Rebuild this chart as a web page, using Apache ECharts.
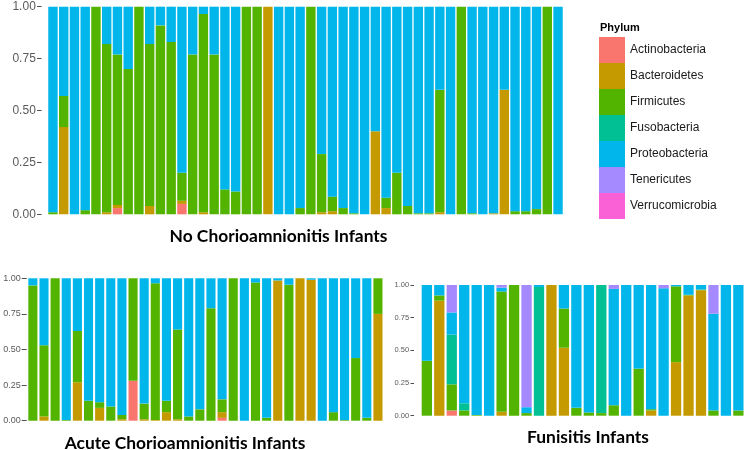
<!DOCTYPE html>
<html>
<head>
<meta charset="utf-8">
<script src="https://cdn.jsdelivr.net/npm/echarts@6/dist/echarts.min.js"></script>
<style>
  html, body { margin: 0; padding: 0; background: #ffffff; }
  #chart { width: 750px; height: 450px; }
</style>
</head>
<body>
<div id="chart"></div>
<script>
// ---------- categories ----------
const phyla = ['Actinobacteria', 'Bacteroidetes', 'Firmicutes', 'Fusobacteria', 'Proteobacteria', 'Tenericutes', 'Verrucomicrobia'];
const phylaColors = ['#F8766D', '#C49A00', '#53B400', '#00C094', '#00B6EB', '#A58AFF', '#FB61D7'];
const yTickLabels = ['0.00', '0.25', '0.50', '0.75', '1.00'];
const panelTitles = ['No Chorioamnionitis Infants', 'Acute Chorioamnionitis Infants', 'Funisitis Infants'];

const noSamples = ['N1','N2','N3','N4','N5','N6','N7','N8','N9','N10','N11','N12','N13','N14','N15','N16',
  'N17','N18','N19','N20','N21','N22','N23','N24','N25','N26','N27','N28','N29','N30','N31','N32',
  'N33','N34','N35','N36','N37','N38','N39','N40','N41','N42','N43','N44','N45','N46','N47','N48'];
const acSamples = ['A1','A2','A3','A4','A5','A6','A7','A8','A9','A10','A11','A12','A13','A14','A15','A16',
  'A17','A18','A19','A20','A21','A22','A23','A24','A25','A26','A27','A28','A29','A30','A31','A32'];
const fuSamples = ['F1','F2','F3','F4','F5','F6','F7','F8','F9','F10','F11','F12','F13',
  'F14','F15','F16','F17','F18','F19','F20','F21','F22','F23','F24','F25','F26'];

// ---------- No Chorioamnionitis ----------
const noActino = [0,0,0,0,0,0,0.03,0, 0,0,0,0,0.05,0,0,0, 0,0,0,0,0,0,0,0, 0,0,0,0,0,0,0,0, 0,0,0,0,0,0,0,0, 0,0,0,0,0,0,0,0];
const noBactero = [0,0.42,0,0,0,0.01,0.015,0, 0,0.04,0,0,0.015,0,0.01,0, 0,0,0,0,1.0,0,0,0, 0,0.01,0.015,0,0,0,0.40,0.03, 0,0,0,0,0.01,0,0,0, 0,0.005,0.60,0,0,0,0,0];
const noFirmi = [0.01,0.15,0,0.02,1.0,0.81,0.725,0.70, 1.0,0.78,0.91,0.83,0.135,0.77,0.955,0.77, 0.12,0.11,1.0,1.0,0,0,0,0.03, 1.0,0.28,0.07,0.03,0.005,0,0,0.05, 0.20,0.04,0.005,0.005,0.59,0,1.0,0.005, 0,0,0,0.015,0.015,0.025,1.0,0];
const noFuso = [0,0,0,0,0,0,0,0, 0,0,0,0,0,0,0,0, 0,0,0,0,0,0,0,0, 0,0,0,0,0,0,0,0, 0,0,0,0,0,0,0,0, 0,0,0,0,0,0,0,0];
const noProteo = [0.99,0.43,1.0,0.98,0,0.18,0.23,0.30, 0,0.18,0.09,0.17,0.80,0.23,0.035,0.23, 0.88,0.89,0,0,0,1.0,1.0,0.97, 0,0.71,0.915,0.97,0.995,1.0,0.60,0.92, 0.80,0.96,0.995,0.995,0.40,1.0,0,0.995, 1.0,0.995,0.40,0.985,0.985,0.975,0,1.0];
const noTeneri = [0,0,0,0,0,0,0,0, 0,0,0,0,0,0,0,0, 0,0,0,0,0,0,0,0, 0,0,0,0,0,0,0,0, 0,0,0,0,0,0,0,0, 0,0,0,0,0,0,0,0];
const noVerruco = [0,0,0,0,0,0,0,0, 0,0,0,0,0,0,0,0, 0,0,0,0,0,0,0,0, 0,0,0,0,0,0,0,0, 0,0,0,0,0,0,0,0, 0,0,0,0,0,0,0,0];

// ---------- Acute Chorioamnionitis ----------
const acActino = [0,0,0,0,0,0,0,0, 0,0.28,0,0,0,0,0,0, 0,0.02,0,0,0,0,0,0, 0,0,0,0,0,0,0,0];
const acBactero = [0,0.03,0,0,0.27,0,0.09,0, 0.01,0,0.01,0.005,0.06,0.01,0,0, 0,0.04,0,0,0,0,0.985,0, 1.0,0.99,0,0,0,0,0,0.75];
const acFirmi = [0.95,0.50,1.0,0.005,0.36,0.14,0.04,0.10, 0.03,0.72,0.11,0.96,0.08,0.63,0.03,0.08, 0.79,0.09,1.0,0,0.97,0.02,0,0.955, 0,0,0,0.06,0.005,0.44,0.02,0.25];
const acFuso = [0,0,0,0,0,0,0,0, 0,0,0,0,0,0,0,0, 0,0,0,0,0,0,0,0, 0,0,0,0,0,0,0,0];
const acProteo = [0.05,0.47,0,0.995,0.37,0.86,0.87,0.90, 0.96,0,0.88,0.035,0.86,0.36,0.97,0.92, 0.21,0.85,0,1.0,0.03,0.98,0.015,0.045, 0,0.01,1.0,0.94,0.995,0.56,0.98,0];
const acTeneri = [0,0,0,0,0,0,0,0, 0,0,0,0,0,0,0,0, 0,0,0,0,0,0,0,0, 0,0,0,0,0,0,0,0];
const acVerruco = [0,0,0,0,0,0,0,0, 0,0,0,0,0,0,0,0, 0,0,0,0,0,0,0,0, 0,0,0,0,0,0,0,0];

// ---------- Funisitis ----------
const fuActino = [0,0,0.04,0,0,0,0,0, 0,0,0,0,0,0,0,0, 0,0,0,0,0,0,0,0, 0,0];
const fuBactero = [0,0.88,0,0,0,0,0.03,0, 0,0,1.0,0.52,0,0,0,0, 0,0,0.04,0,0.41,0.92,0.96,0, 0,0];
const fuFirmi = [0.42,0.04,0.20,0.04,0.005,0,0.92,1.0, 0.02,0,0,0.30,0.06,0.025,0.02,0.08, 0,0.36,0.01,0,0.58,0.005,0.005,0.04, 0,0.04];
const fuFuso = [0,0,0.38,0.055,0,0,0,0, 0,0.985,0,0,0,0,0.98,0, 0,0,0,0,0,0,0,0, 0,0];
const fuProteo = [0.58,0.08,0.17,0.905,0.995,1.0,0.03,0, 0.045,0.015,0,0.18,0.94,0.975,0,0.89, 1.0,0.64,0.95,0.975,0.01,0.075,0.035,0.74, 1.0,0.96];
const fuTeneri = [0,0,0.21,0,0,0,0.02,0, 0.935,0,0,0,0,0,0,0.03, 0,0,0,0.025,0,0,0,0.22, 0,0];
const fuVerruco = [0,0,0,0,0,0,0,0, 0,0,0,0,0,0,0,0, 0,0,0,0,0,0,0,0, 0,0];

// ---------- build chart ----------
const panels = [
  { cats: noSamples, data: [noActino, noBactero, noFirmi, noFuso, noProteo, noTeneri, noVerruco],
    grid: { left: 47.6, top: 6.7, width: 515.8, height: 207.6 }, barWidth: 9.4,
    yFont: 12, yOffset: 6, tickLen: 4.5, labelMargin: 5.8 },
  { cats: acSamples, data: [acActino, acBactero, acFirmi, acFuso, acProteo, acTeneri, acVerruco],
    grid: { left: 27.3, top: 278.3, width: 356.2, height: 142.4 }, barWidth: 9.1,
    yFont: 9, yOffset: 0.6, tickLen: 5, labelMargin: 6 },
  { cats: fuSamples, data: [fuActino, fuBactero, fuFirmi, fuFuso, fuProteo, fuTeneri, fuVerruco],
    grid: { left: 420.6, top: 285, width: 324, height: 130.7 }, barWidth: 10.3,
    yFont: 7.5, yOffset: 6.6, tickLen: 3.5, labelMargin: 4.8 }
];

const grids = [], xAxes = [], yAxes = [], series = [];
panels.forEach((p, i) => {
  grids.push(Object.assign({ containLabel: false }, p.grid));
  xAxes.push({
    type: 'category', gridIndex: i, data: p.cats, boundaryGap: true,
    axisLine: { show: false }, axisTick: { show: false }, axisLabel: { show: false }, splitLine: { show: false }
  });
  yAxes.push({
    type: 'value', gridIndex: i, min: 0, max: 1, interval: 0.25, offset: p.yOffset,
    axisLine: { show: false },
    axisTick: { show: true, length: p.tickLen, lineStyle: { color: '#4d4d4d', width: 1 } },
    axisLabel: {
      fontSize: p.yFont, color: '#5a5a5a', fontFamily: 'Liberation Sans, Arial, sans-serif', margin: p.labelMargin,
      formatter: (v) => yTickLabels[Math.round(v / 0.25)]
    },
    splitLine: { show: false }
  });
  phyla.forEach((name, k) => {
    series.push({
      name: name, type: 'bar', stack: 'panel' + i, xAxisIndex: i, yAxisIndex: i,
      data: p.data[k], barWidth: p.barWidth,
      itemStyle: { color: phylaColors[k] },
      emphasis: { disabled: true }, animation: false
    });
  });
});

const chart = echarts.init(document.getElementById('chart'), null, { renderer: 'canvas' });
chart.setOption({
  animation: false,
  backgroundColor: '#ffffff',
  color: phylaColors,
  grid: grids,
  xAxis: xAxes,
  yAxis: yAxes,
  series: series,
  legend: {
    data: phyla, orient: 'vertical', left: 599, top: 37, padding: 0,
    itemWidth: 26, itemHeight: 26, itemGap: 0, icon: 'rect',
    selectedMode: false,
    textStyle: { fontSize: 12, color: '#1a1a1a', fontFamily: 'Liberation Sans, Arial, sans-serif' }
  },
  graphic: [
    { type: 'text', left: 600, top: 22, style: { text: 'Phylum', font: 'bold 11px "Liberation Sans", Arial, sans-serif', fill: '#000000' } },
    { type: 'text', x: 278.5, y: 236, style: { text: panelTitles[0], textAlign: 'center', textVerticalAlign: 'middle', font: 'bold 17.4px Lato, "Open Sans", sans-serif', fill: '#000000' } },
    { type: 'text', x: 185, y: 443, style: { text: panelTitles[1], textAlign: 'center', textVerticalAlign: 'middle', font: 'bold 17.4px Lato, "Open Sans", sans-serif', fill: '#000000' } },
    { type: 'text', x: 588, y: 437, style: { text: panelTitles[2], textAlign: 'center', textVerticalAlign: 'middle', font: 'bold 17.4px Lato, "Open Sans", sans-serif', fill: '#000000' } }
  ]
});
</script>
</body>
</html>
